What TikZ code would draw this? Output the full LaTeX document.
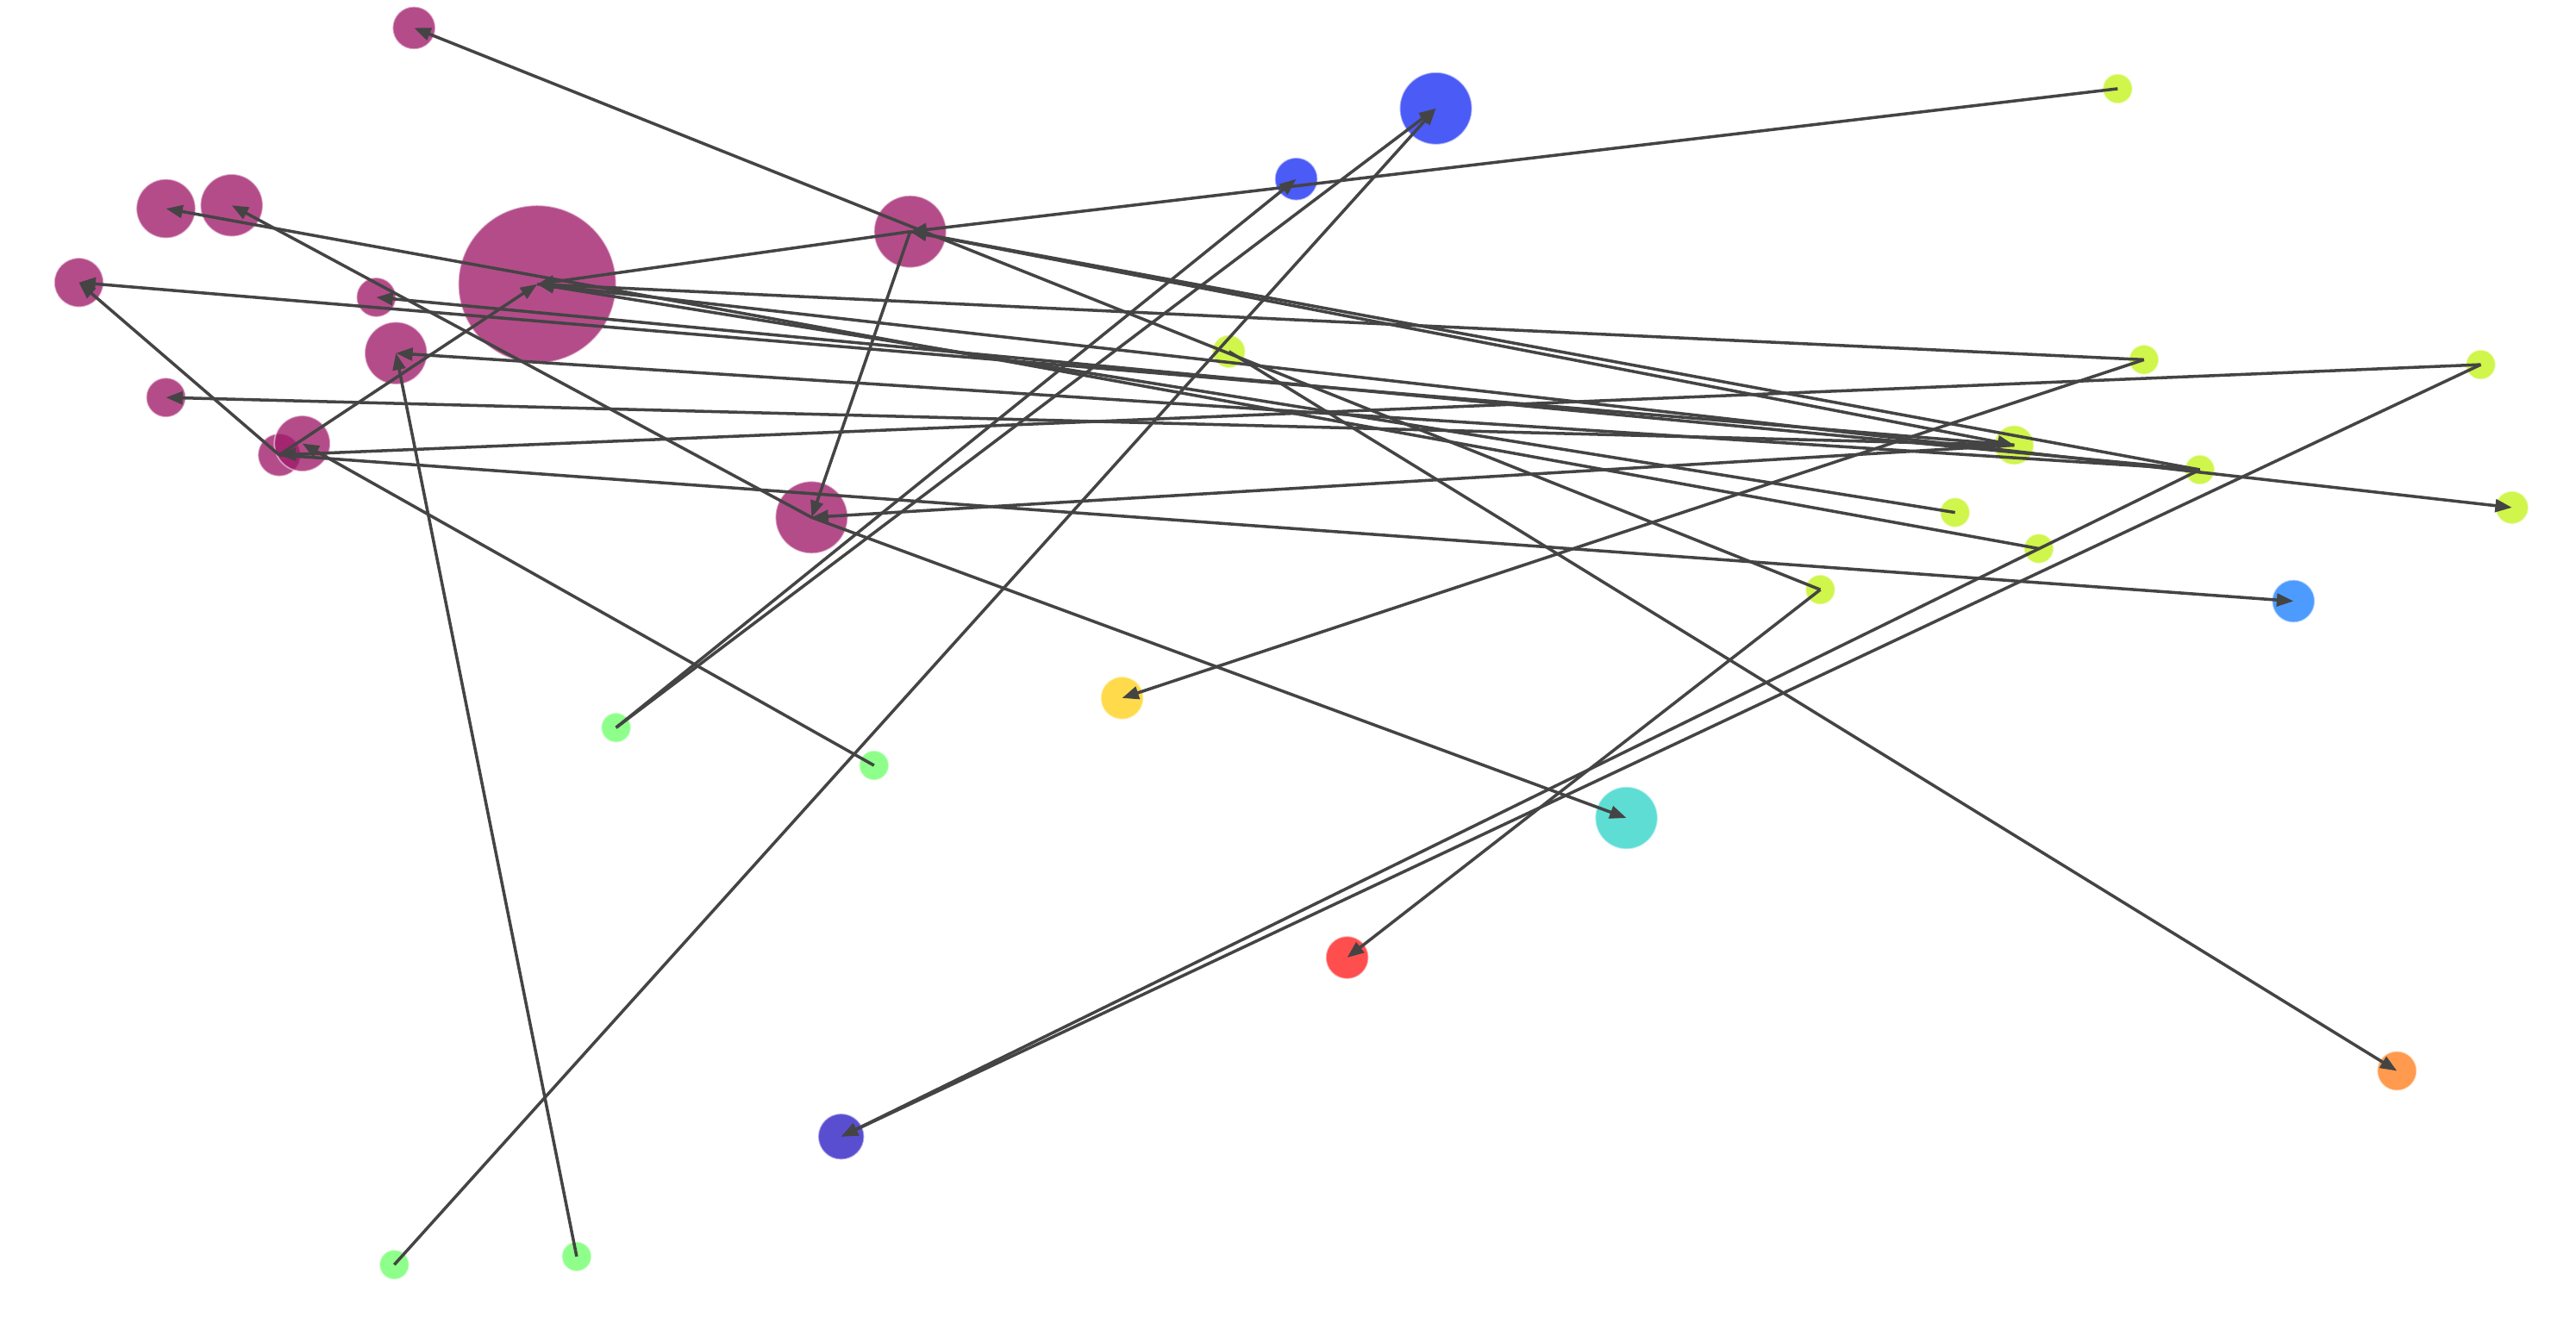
\documentclass[tikz,border=0pt]{standalone}
\usetikzlibrary{arrows.meta}
\definecolor{mag}{RGB}{159,26,105}
\definecolor{bluA}{RGB}{75,91,245}
\definecolor{bluL}{RGB}{78,155,255}
\definecolor{ygr}{RGB}{208,245,75}
\definecolor{yel}{RGB}{255,219,75}
\definecolor{lgr}{RGB}{142,255,138}
\definecolor{cya}{RGB}{94,221,213}
\definecolor{redd}{RGB}{255,78,78}
\definecolor{ora}{RGB}{255,154,78}
\definecolor{pur}{RGB}{90,78,208}
\definecolor{edgec}{RGB}{68,68,68}
\newcommand\mynode[5]{\node[dot,fill=#5,minimum size=#4*0.38112mm] (#1) at (#2,#3) {};}
\begin{document}
\begin{tikzpicture}[x=0.19056mm,y=-0.19056mm,
  dot/.style={circle,inner sep=0pt,draw=white,draw opacity=0.5,line width=0.5pt},
  edge/.style={draw=edgec,line width=1pt,-{Triangle[length=5.5pt,width=4.2pt]}}]
\useasboundingbox (0,0) rectangle (1568,805);
% magenta nodes
\begin{scope}[every node/.append style={fill opacity=0.78}]
\mynode{M1}{252}{17}{13}{mag}
\mynode{M2}{101}{127}{18}{mag}
\mynode{M3}{141}{125}{19}{mag}
\mynode{M4}{48}{172}{15}{mag}
\mynode{M5}{327}{173}{48}{mag}
\mynode{M6}{229}{181}{12}{mag}
\mynode{M7}{241}{215}{19}{mag}
\mynode{M8}{101}{242}{12}{mag}
\mynode{M10}{170}{277}{13}{mag}
\mynode{M9}{184}{270}{17}{mag}
\mynode{M11}{554}{141}{22}{mag}
\mynode{M12}{494}{315}{22}{mag}
\end{scope}
% other nodes
\mynode{B1}{874}{66}{22}{bluA}
\mynode{B2}{789}{109}{13}{bluA}
\mynode{LB}{1396}{366}{13}{bluL}
\mynode{G1}{1289}{54}{9}{ygr}
\mynode{G2}{748}{214}{10}{ygr}
\mynode{G3}{1305}{219}{9}{ygr}
\mynode{G4}{1510}{222}{9}{ygr}
\mynode{G5}{1226}{271}{12}{ygr}
\mynode{G6}{1339}{286}{9}{ygr}
\mynode{G7}{1529}{309}{10}{ygr}
\mynode{G8}{1190}{312}{9}{ygr}
\mynode{G9}{1241}{334}{9}{ygr}
\mynode{G10}{1108}{359}{9}{ygr}
\mynode{Y}{683}{425}{13}{yel}
\mynode{L1}{375}{443}{9}{lgr}
\mynode{L2}{532}{466}{9}{lgr}
\mynode{L3}{240}{770}{9}{lgr}
\mynode{L4}{351}{765}{9}{lgr}
\mynode{C}{990}{498}{19}{cya}
\mynode{R}{820}{583}{13}{redd}
\mynode{O}{1459}{652}{12}{ora}
\mynode{P}{512}{692}{14}{pur}
% edges
\draw[edge] (G10.center) -- (M1.center);
\draw[edge] (G1.center) -- (M11.center);
\draw[edge] (M11.center) -- (M5.center);
\draw[edge] (M11.center) -- (M12.center);
\draw[edge] (G6.center) -- (M11.center);
\draw[edge] (M11.center) -- (G5.center);
\draw[edge] (G5.center) -- (M12.center);
\draw[edge] (M12.center) -- (M3.center);
\draw[edge] (M12.center) -- (C.center);
\draw[edge] (L1.center) -- (B1.center);
\draw[edge] (L1.center) -- (B2.center);
\draw[edge] (L3.center) -- (B1.center);
\draw[edge] (G3.center) -- (Y.center);
\draw[edge] (G10.center) -- (R.center);
\draw[edge] (G2.center) -- (O.center);
\draw[edge] (G4.center) -- (P.center);
\draw[edge] (G6.center) -- (P.center);
\draw[edge] (M10.center) -- (LB.center);
\draw[edge] (G4.center) -- (M10.center);
\draw[edge] (M10.center) -- (M4.center);
\draw[edge] (M10.center) -- (M5.center);
\draw[edge] (L2.center) -- (M9.center);
\draw[edge] (L4.center) -- (M7.center);
\draw[edge] (G3.center) -- (M5.center);
\draw[edge] (G5.center) -- (M8.center);
\draw[edge] (G5.center) -- (M4.center);
\draw[edge] (G6.center) -- (M7.center);
\draw[edge] (G6.center) -- (M6.center);
\draw[edge] (G9.center) -- (M2.center);
\draw[edge] (G8.center) -- (M5.center);
\draw[edge] (M5.center) -- (G7.center);
\end{tikzpicture}
\end{document}
